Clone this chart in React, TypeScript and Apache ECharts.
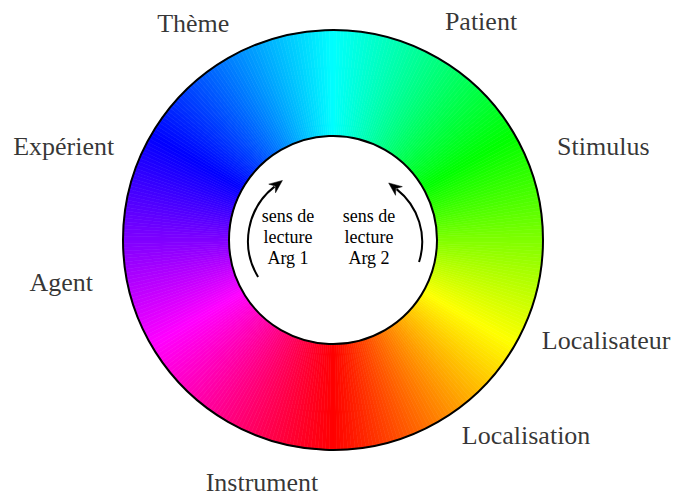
import React, { useEffect, useRef } from "react";
import * as echarts from "echarts";

// Semantic roles placed around the hue wheel
const roleNames = ["Thème", "Patient", "Stimulus", "Localisateur", "Localisation", "Instrument", "Agent", "Expérient"];
// angle (degrees, clockwise from top) of each role label
const roleAngles = [327.2, 34.1, 70.9, 110.2, 135.4, 196.3, 261.1, 289.1];
// distance of each role label from the wheel centre
const roleDistances = [258, 264, 286, 291, 275, 253, 275, 285];
// texts inside the wheel
const readingNotes = ["sens de\nlecture\nArg 1", "sens de\nlecture\nArg 2"];
// hue found at the top of the wheel, and number of colour steps
const topHue = 180;
const hueSteps = 360;

const CX = 333;
const CY = 240;
const R_OUT = 210;
const R_IN = 104;
const FONT = "'Liberation Serif', 'Times New Roman', serif";

const deg = (d: number) => (d * Math.PI) / 180;

function arrowHead(tx: number, ty: number, dx: number, dy: number) {
  const nx = -dy, ny = dx;
  const L = 13, W = 5.5, N = 9;
  return [
    [tx, ty],
    [tx - L * dx + W * nx, ty - L * dy + W * ny],
    [tx - N * dx, ty - N * dy],
    [tx - L * dx - W * nx, ty - L * dy - W * ny],
  ];
}

function buildArrow(cx: number, cy: number, r: number, start: number, end: number, clockwise: boolean) {
  const e = deg(end);
  const ex = cx + r * Math.cos(e);
  const ey = cy + r * Math.sin(e);
  const dx = clockwise ? -Math.sin(e) : Math.sin(e);
  const dy = clockwise ? Math.cos(e) : -Math.cos(e);
  const tx = ex + 10 * dx;
  const ty = ey + 10 * dy;
  return [
    {
      type: "arc",
      z: 100,
      shape: { cx, cy, r, startAngle: deg(start), endAngle: e, clockwise },
      style: { stroke: "#000", lineWidth: 2, fill: "none" },
    },
    {
      type: "polygon",
      z: 100,
      shape: { points: arrowHead(tx, ty, dx, dy) },
      style: { fill: "#000", stroke: "#000", lineWidth: 0.5 },
    },
  ];
}

export default function App() {
  const ref = useRef<HTMLDivElement>(null);

  useEffect(() => {
    document.body.style.margin = "0";
    if (!ref.current) return;
    const chart = echarts.init(ref.current, undefined, { renderer: "svg" });

    const wheelData = Array.from({ length: hueSteps }, (_, i) => {
      const hue = (((topHue - (i + 0.5) * (360 / hueSteps)) % 360) + 360) % 360;
      const color = `hsl(${hue.toFixed(2)}, 100%, 50%)`;
      return { value: 1, itemStyle: { color, borderColor: color, borderWidth: 0.6 } };
    });

    const noteX = [288, 369];

    chart.setOption({
      animation: false,
      backgroundColor: "#fff",
      polar: { center: [CX, CY], radius: 300 },
      angleAxis: { type: "value", min: 0, max: 360, startAngle: 90, clockwise: true, show: false },
      radiusAxis: { type: "value", min: 0, max: 300, show: false },
      series: [
        {
          type: "pie",
          center: [CX, CY],
          radius: [R_IN, R_OUT],
          startAngle: 90,
          clockwise: true,
          silent: true,
          label: { show: false },
          labelLine: { show: false },
          emphasis: { disabled: true },
          data: wheelData,
        },
        {
          type: "scatter",
          coordinateSystem: "polar",
          symbolSize: 1,
          silent: true,
          itemStyle: { color: "transparent" },
          label: {
            show: true,
            position: "inside",
            formatter: "{b}",
            fontSize: 26,
            fontFamily: FONT,
            color: "#000",
          },
          data: roleNames.map((n, i) => ({ name: n, value: [roleDistances[i], roleAngles[i]] })),
        },
      ],
      graphic: [
        {
          type: "circle",
          z: 100,
          shape: { cx: CX, cy: CY, r: R_OUT },
          style: { fill: "none", stroke: "#000", lineWidth: 2 },
        },
        {
          type: "circle",
          z: 100,
          shape: { cx: CX, cy: CY, r: R_IN },
          style: { fill: "none", stroke: "#000", lineWidth: 2 },
        },
        ...buildArrow(317, 241, 69, 148.6, 232, true),
        ...buildArrow(355.5, 241.7, 66.7, 17.7, -52, false),
        ...readingNotes.map((t, i) => ({
          type: "text",
          z: 100,
          style: {
            text: t,
            x: noteX[i],
            y: 237,
            fontSize: 18,
            fontFamily: FONT,
            lineHeight: 21,
            fill: "#000",
            align: "center",
            verticalAlign: "middle",
            textAlign: "center",
            textVerticalAlign: "middle",
          },
        })),
      ],
    });

    return () => chart.dispose();
  }, []);

  return <div ref={ref} style={{ width: 675, height: 496 }} />;
}
